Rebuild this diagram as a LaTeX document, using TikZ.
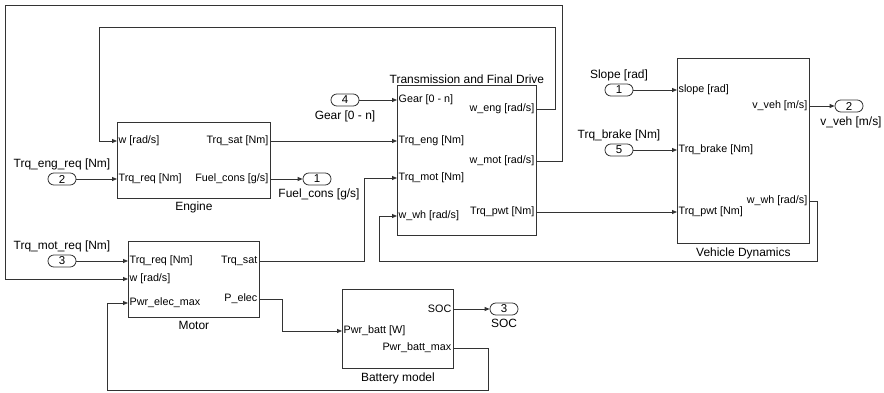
\documentclass[tikz,border=0pt]{standalone}
\usepackage{fontspec}
\setmainfont{Liberation Sans}
\usetikzlibrary{arrows.meta, positioning}
\definecolor{wire}{HTML}{333333}
\tikzset{
  blk/.style={draw=wire, line width=0.8bp, anchor=north west, inner sep=0pt},
  prt/.style={inner sep=1.5bp, font=\fontsize{10.8}{12}\selectfont},
  lbl/.style={inner sep=1.5bp, font=\fontsize{12}{14}\selectfont},
  pill/.style={draw=wire, line width=0.8bp, rounded corners=5.9bp, minimum width=28bp,
               minimum height=12bp, inner sep=0pt, font=\fontsize{11.5}{12}\selectfont},
  sig/.style={-{Triangle[length=5bp, width=4bp]}, wire, line width=0.8bp},
}

\begin{document}
\begin{tikzpicture}[x=1bp, y=-1bp]
    \useasboundingbox (0,0) rectangle (884,392);
    % blocks
    \node[blk, minimum width=153bp, minimum height=76bp] (eng) at (117,122) {};
    \node[lbl, below=1.5bp of eng] (engname) {Engine};
    \node[blk, minimum width=139bp, minimum height=150bp] (tfd) at (397,85) {};
    \node[lbl, above=0bp of tfd] (tfdname) {Transmission and Final Drive};
    \node[blk, minimum width=131bp, minimum height=76bp] (mot) at (128,241) {};
    \node[lbl, below=2bp of mot] (motname) {Motor};
    \node[blk, minimum width=111bp, minimum height=79bp] (bat) at (342,289) {};
    \node[lbl, below=2bp of bat] (batname) {Battery model};
    \node[blk, minimum width=132bp, minimum height=185bp] (vd) at (677,58) {};
    \node[lbl, below=2bp of vd] (vdname) {Vehicle Dynamics};

    % ports
    \node[prt, anchor=west] (engw) at (117,141) {w [rad/s]};
    \node[prt, anchor=west] (engreq) at (117,179) {Trq\_req [Nm]};
    \node[prt, anchor=east] (engsat) at (270,141) {Trq\_sat [Nm]};
    \node[prt, anchor=east] (engfuel) at (270,179) {Fuel\_cons [g/s]};

    \node[prt, anchor=west] (tfdgear) at (397,100) {Gear [0 - n]};
    \node[prt, anchor=west] (tfdeng) at (397,141) {Trq\_eng [Nm]};
    \node[prt, anchor=west] (tfdmot) at (397,178) {Trq\_mot [Nm]};
    \node[prt, anchor=west] (tfdwwh) at (397,216) {w\_wh [rad/s]};
    \node[prt, anchor=east] (tfdweng) at (536,109) {w\_eng [rad/s]};
    \node[prt, anchor=east] (tfdwmot) at (536,161) {w\_mot [rad/s]};
    \node[prt, anchor=east] (tfdpwt) at (536,212) {Trq\_pwt [Nm]};

    \node[prt, anchor=west] (motreq) at (128,261) {Trq\_req [Nm]};
    \node[prt, anchor=west] (motw) at (128,279) {w [rad/s]};
    \node[prt, anchor=west] (motpwr) at (128,303) {Pwr\_elec\_max};
    \node[prt, anchor=east] (motsat) at (259,261) {Trq\_sat};
    \node[prt, anchor=east] (motpel) at (259,299) {P\_elec};

    \node[prt, anchor=west] (batp) at (342,331) {Pwr\_batt [W]};
    \node[prt, anchor=east] (batsoc) at (453,309) {SOC};
    \node[prt, anchor=east] (batmax) at (453,348) {Pwr\_batt\_max};

    \node[prt, anchor=west] (vdslope) at (677,90) {slope [rad]};
    \node[prt, anchor=west] (vdbrake) at (677,150) {Trq\_brake [Nm]};
    \node[prt, anchor=west] (vdpwt) at (677,212) {Trq\_pwt [Nm]};
    \node[prt, anchor=east] (vdvveh) at (809,106) {v\_veh [m/s]};
    \node[prt, anchor=east] (vdwwh) at (809,201) {w\_wh [rad/s]};

    % in- and outports
    \node[pill] (in2) at (62,179) {2};
    \node[lbl, above=1bp of in2] (in2name) {Trq\_eng\_req [Nm]};
    \node[pill] (in3) at (62,261) {3};
    \node[lbl, above=1bp of in3] (in3name) {Trq\_mot\_req [Nm]};
    \node[pill] (in4) at (345,100) {4};
    \node[lbl, below=3bp of in4] (in4name) {Gear [0 - n]};
    \node[pill] (in1) at (619,90) {1};
    \node[lbl, above=1bp of in1] (in1name) {Slope [rad]};
    \node[pill] (in5) at (619,150) {5};
    \node[lbl, above=1bp of in5] (in5name) {Trq\_brake [Nm]};
    \node[pill] (out1) at (317,179) {1};
    \node[lbl, below=2bp of out1, xshift=2bp] (out1name) {Fuel\_cons [g/s]};
    \node[pill] (out2) at (849,106) {2};
    \node[lbl, below=3bp of out2, xshift=2bp] (out2name) {v\_veh [m/s]};
    \node[pill] (out3) at (504,309) {3};
    \node[lbl, below=2.5bp of out3] (out3name) {SOC};

    % signals
    \draw[sig] (in2) -- (engreq.west);
    \draw[sig] (engsat.east) -- (tfdeng.west);
    \draw[sig] (engfuel.east) -- (out1);
    \draw[sig] (in4) -- (tfdgear.west);
    \draw[sig] (tfdweng.east) -| (555,27) -| (99,141) -- (engw.west);
    \draw[sig] (tfdwmot.east) -| (562,5) -| (5,279) -- (motw.west);
    \draw[sig] (in3) -- (motreq.west);
    \draw[sig] (motsat.east) -| (364,178) -- (tfdmot.west);
    \draw[sig] (motpel.east) -| (282,331) -- (batp.west);
    \draw[sig] (batsoc.east) -- (out3);
    \draw[sig] (batmax.east) -| (488,390) -| (107,303) -- (motpwr.west);
    \draw[sig] (in1) -- (vdslope.west);
    \draw[sig] (in5) -- (vdbrake.west);
    \draw[sig] (tfdpwt.east) -- (vdpwt.west);
    \draw[sig] (vdvveh.east) -- (out2);
    \draw[sig] (vdwwh.east) -| (817,261) -| (379,216) -- (tfdwwh.west);
  \end{tikzpicture}
\end{document}
